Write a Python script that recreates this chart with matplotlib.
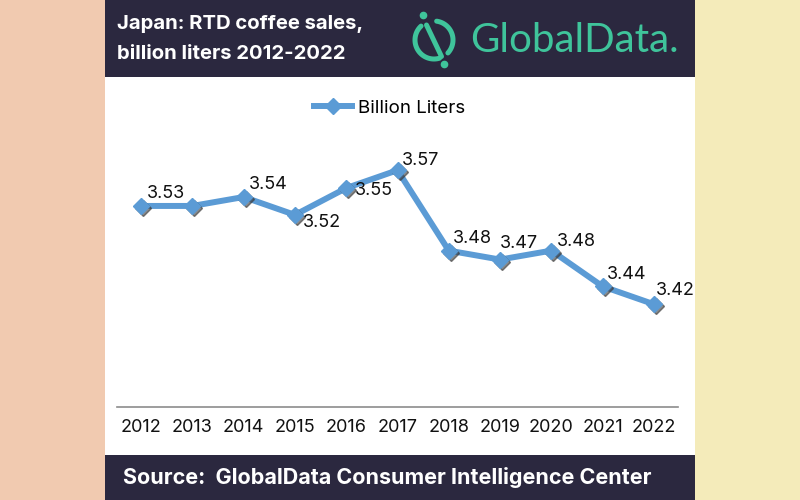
import numpy as np
import matplotlib.pyplot as plt
import matplotlib.transforms as mtransforms
from matplotlib.patches import Rectangle
from matplotlib.lines import Line2D

years = [2012, 2013, 2014, 2015, 2016, 2017, 2018, 2019, 2020, 2021, 2022]
liters = [3.53, 3.53, 3.54, 3.52, 3.55, 3.57, 3.48, 3.47, 3.48, 3.44, 3.42]
value_labels = ["3.53", None, "3.54", "3.52", "3.55", "3.57", "3.48", "3.47", "3.48", "3.44", "3.42"]
series_name = "Billion Liters"
title_lines = ["Japan: RTD coffee sales,", "billion liters 2012-2022"]
source_text = "Source:  GlobalData Consumer Intelligence Center"
brand = "GlobalData."

# label offsets in pixels (dx to left edge, dy to centre)
label_offsets = [(6, 12), None, (5, 13), (8, -8), (9, -2), (4, 10), (4, 12), (0, 16), (6, 9), (4, 12), (2, 14)]

NAVY = "#2b283f"
BLUE = "#5b9bd5"
TEAL = "#3fc49b"
FONT = "Inter"

fig = plt.figure(figsize=(8, 5), dpi=100)

# background axes in pixel coordinates
bg = fig.add_axes([0, 0, 1, 1], zorder=0)
bg.set_xlim(0, 800)
bg.set_ylim(500, 0)
bg.axis("off")
bg.add_patch(Rectangle((0, 0), 105, 500, color="#f1cab0", lw=0))
bg.add_patch(Rectangle((695, 0), 105, 500, color="#f4ebba", lw=0))
bg.add_patch(Rectangle((105, 0), 590, 500, color="white", lw=0))
bg.add_patch(Rectangle((105, 0), 590, 77, color=NAVY, lw=0))
bg.add_patch(Rectangle((105, 455), 590, 45, color=NAVY, lw=0))

bg.text(117, 24, title_lines[0], color="white", fontsize=14.6, fontweight="bold",
        family=FONT, va="center", ha="left")
bg.text(117, 54, title_lines[1], color="white", fontsize=14.6, fontweight="bold",
        family=FONT, va="center", ha="left")
bg.text(123, 477, source_text, color="white", fontsize=15.5, fontweight="bold",
        family=FONT, va="center", ha="left")

# logo mark
cx, cy, r = 434, 40, 19
for a0, a1 in [(133, 287), (-43, 82)]:
    a = np.radians(np.linspace(a0, a1, 60))
    bg.plot(cx + r * np.cos(a), cy - r * np.sin(a), color=TEAL, lw=3.6, solid_capstyle="round")
bg.plot([426.5, 441.5], [25, 56.5], color=TEAL, lw=3.6, solid_capstyle="round")
bg.plot([423.3, 444], [15, 64.3], "o", color=TEAL, ms=4.5)
bg.text(470, 41, brand, color=TEAL, fontsize=29, family="Lato", va="center", ha="left")

# chart
ax = fig.add_axes([117 / 800, 1 - 407 / 500, 561 / 800, 277 / 500], zorder=2)
ax.patch.set_alpha(0)
ax.plot(years, liters, color=BLUE, lw=4.3, zorder=3)
shadow = ax.transData + mtransforms.ScaledTranslation(1.5 / 72, -1.5 / 72, fig.dpi_scale_trans)
ax.plot(years, liters, ls="none", marker="D", ms=8, color="#3a3a3a", alpha=0.6,
        transform=shadow, zorder=3.5)
ax.plot(years, liters, ls="none", marker="D", ms=8, color=BLUE, zorder=4)
ax.set_xlim(2011.53, 2022.47)
ax.set_ylim(3.305, 3.615)
ax.set_yticks([])
ax.set_xticks(years)
ax.tick_params(axis="x", length=0, pad=9, labelsize=13, labelcolor="#111111")
for t in ax.get_xticklabels():
    t.set_family(FONT)
for s in ["top", "left", "right"]:
    ax.spines[s].set_visible(False)
ax.spines["bottom"].set_color("#8c8c8c")
ax.spines["bottom"].set_linewidth(1.2)

for x, y, lab, off in zip(years, liters, value_labels, label_offsets):
    if lab is None:
        continue
    ax.annotate(lab, (x, y), xytext=off, textcoords="offset pixels", ha="left", va="center",
                fontsize=13, family=FONT, color="#111111", zorder=5)

handle = Line2D([], [], color=BLUE, lw=4.3, marker="D", ms=8)
fig.legend([handle], [series_name], loc="center left", bbox_to_anchor=(314 / 800, 1 - 108 / 500),
           frameon=False, prop={"family": FONT, "size": 13.5}, handlelength=2.0,
           handletextpad=0.35, borderpad=0, borderaxespad=0)

fig.savefig("out.png", dpi=100)
